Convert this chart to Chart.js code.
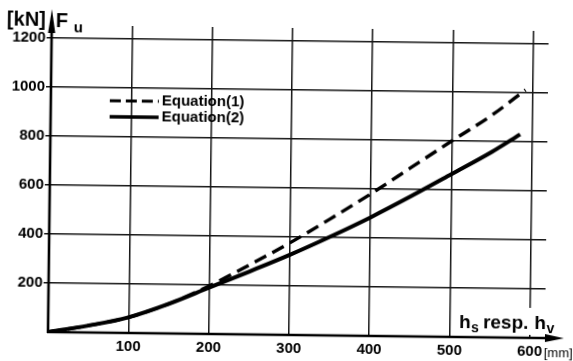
<!DOCTYPE html>
<html>
<head>
<meta charset="utf-8">
<script src="https://cdn.jsdelivr.net/npm/chart.js@4/dist/chart.umd.min.js"></script>
<style>
  html, body { margin: 0; padding: 0; background: #fff; overflow: hidden; }
  #wrap { width: 573px; height: 361px; }
  canvas { display: block; transform: rotate(0.7deg); transform-origin: 48px 332px; }
</style>
</head>
<body>
<div id="wrap"><canvas id="c" width="573" height="361"></canvas></div>
<script>
// ---- data ----
const eq1X = [0, 50, 100, 150, 200, 250, 300, 350, 400, 450, 500, 550, 591];
const eq1Y = [0, 28, 64, 121, 196, 284, 376, 476, 580, 690, 800, 908, 1012];
const eq2X = [0, 50, 100, 150, 200, 250, 300, 350, 400, 450, 500, 550, 585];
const eq2Y = [0, 28, 64, 121, 189, 257, 327, 403, 484, 572, 664, 757, 830];
const xTicks = [100, 200, 300, 400, 500, 600];
const xTickLabels = ['100', '200', '300', '400', '500', '600'];
const yTicks = [200, 400, 600, 800, 1000, 1200];
const yTickLabels = ['200', '400', '600', '800', '1000', '1200'];
const seriesNames = ['Equation(1)', 'Equation(2)'];
const yUnit = '[kN]';
const xUnit = '[mm]';

const SANS = "'Liberation Sans', Arial, sans-serif";
const INK = '#000';
const GRID = '#151515';

const toPts = (xs, ys) => xs.map((x, i) => ({ x: x, y: ys[i] }));

const decor = {
  id: 'decor',
  beforeDatasetsDraw(chart) {
    const ctx = chart.ctx;
    // white backing behind the x-axis caption (the grid line stops there)
    ctx.save();
    ctx.fillStyle = '#fff';
    ctx.fillRect(452, 302, 120, 27);
    ctx.restore();
  },
  afterDraw(chart) {
    const ctx = chart.ctx;
    const xs = chart.scales.x, ys = chart.scales.y;
    const x0 = xs.getPixelForValue(0), y0 = ys.getPixelForValue(0);
    ctx.save();
    ctx.strokeStyle = INK; ctx.fillStyle = INK;
    ctx.lineWidth = 2.6; ctx.lineCap = 'butt';
    // y axis with arrow
    ctx.beginPath(); ctx.moveTo(x0, y0 + 1); ctx.lineTo(x0, 28); ctx.stroke();
    ctx.beginPath(); ctx.moveTo(x0, 9); ctx.lineTo(x0 + 3.6, 33); ctx.lineTo(x0 - 3.6, 33); ctx.closePath(); ctx.fill();
    // x axis with arrow
    ctx.beginPath(); ctx.moveTo(x0 - 1, y0); ctx.lineTo(548, y0); ctx.stroke();
    ctx.beginPath(); ctx.moveTo(564, y0); ctx.lineTo(545, y0 - 4); ctx.lineTo(545, y0 + 4); ctx.closePath(); ctx.fill();

    // y-axis caption
    ctx.textBaseline = 'alphabetic';
    ctx.font = 'bold 20px ' + SANS;
    ctx.textAlign = 'right';
    ctx.fillText(yUnit, 42, 26);
    ctx.textAlign = 'left';
    ctx.fillText('F', 52, 27);
    ctx.font = 'bold 15px ' + SANS;
    ctx.fillText('u', 70, 32);

    // x-axis caption  h_s resp. h_v
    let cx = 459; const bl = 323;
    ctx.font = 'bold 19px ' + SANS; ctx.fillText('h', cx, bl); cx += ctx.measureText('h').width + 0.5;
    ctx.font = 'bold 14px ' + SANS; ctx.fillText('s', cx, bl + 4); cx += ctx.measureText('s').width + 4;
    ctx.font = 'bold 19px ' + SANS; ctx.fillText('resp.', cx, bl); cx += ctx.measureText('resp.').width + 6;
    ctx.fillText('h', cx, bl); cx += ctx.measureText('h').width + 0.5;
    ctx.font = 'bold 14px ' + SANS; ctx.fillText('v', cx, bl + 4);

    // [mm] after the last tick label
    ctx.font = '13px ' + SANS;
    ctx.fillText(xUnit, 544, 351);

    // legend
    ctx.lineWidth = 3;
    ctx.setLineDash([11, 5]);
    ctx.beginPath(); ctx.moveTo(107, 100); ctx.lineTo(156, 100); ctx.stroke();
    ctx.setLineDash([]);
    ctx.lineWidth = 3.6;
    ctx.beginPath(); ctx.moveTo(107, 116); ctx.lineTo(156, 116); ctx.stroke();
    ctx.textBaseline = 'middle';
    ctx.font = 'bold 15px ' + SANS;
    ctx.fillText(seriesNames[0], 159, 100);
    ctx.fillText(seriesNames[1], 159, 116);
    ctx.restore();
  }
};

new Chart(document.getElementById('c'), {
  type: 'line',
  data: {
    datasets: [
      { label: seriesNames[0], data: toPts(eq1X, eq1Y), borderColor: INK, borderWidth: 3.4,
        borderDash: [13, 7], pointRadius: 0, cubicInterpolationMode: 'monotone', fill: false },
      { label: seriesNames[1], data: toPts(eq2X, eq2Y), borderColor: INK, borderWidth: 4,
        pointRadius: 0, cubicInterpolationMode: 'monotone', fill: false }
    ]
  },
  options: {
    responsive: false,
    animation: false,
    devicePixelRatio: 1,
    layout: { padding: { top: 25, right: 28, left: 0, bottom: 0 } },
    plugins: { legend: { display: false }, tooltip: { enabled: false } },
    scales: {
      x: {
        type: 'linear', min: 0, max: 619,
        afterBuildTicks: (s) => { s.ticks = xTicks.map(v => ({ value: v })); },
        afterFit: (s) => { s.height = 29; },
        border: { display: false },
        grid: { color: GRID, lineWidth: 1.5, drawTicks: false },
        ticks: { color: INK, padding: 5, maxRotation: 0, autoSkip: false,
                 callback: (v) => xTickLabels[xTicks.indexOf(v)] ?? '',
                 font: { family: SANS, size: 15, weight: 'bold' } }
      },
      y: {
        type: 'linear', min: 0, max: 1253,
        afterBuildTicks: (s) => { s.ticks = yTicks.map(v => ({ value: v })); },
        afterFit: (s) => { s.width = 48; },
        border: { display: false },
        grid: { color: GRID, lineWidth: 1.5, drawTicks: true, tickLength: 5 },
        ticks: { color: INK, padding: 1, autoSkip: false,
                 callback: (v) => yTickLabels[yTicks.indexOf(v)] ?? '',
                 font: { family: SANS, size: 15, weight: 'bold' } }
      }
    }
  },
  plugins: [decor]
});
</script>
</body>
</html>
